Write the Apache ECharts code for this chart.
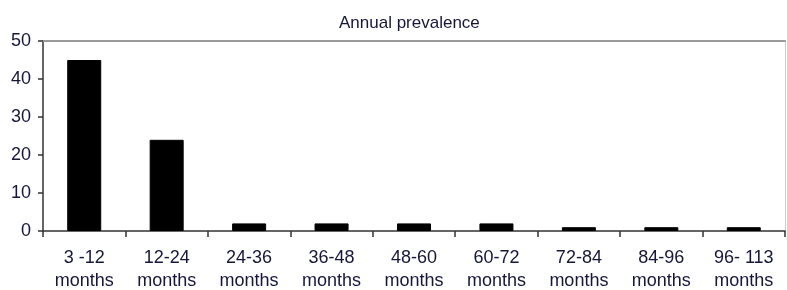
<!DOCTYPE html>
<html>
<head>
<meta charset="utf-8">
<script src="https://cdn.jsdelivr.net/npm/echarts@6/dist/echarts.min.js"></script>
<style>
html,body{margin:0;padding:0;background:#fff;}
#chart{width:787px;height:290px;}
</style>
</head>
<body>
<div id="chart"></div>
<script>
const categories = ["3 -12\nmonths", "12-24\nmonths", "24-36\nmonths", "36-48\nmonths", "48-60\nmonths", "60-72\nmonths", "72-84\nmonths", "84-96\nmonths", "96- 113\nmonths"];
const prevalence = [45, 24, 2, 2, 2, 2, 1, 1, 1];
const titleText = "Annual prevalence";
const yMin = 0, yMax = 50, yStep = 10;

const chart = echarts.init(document.getElementById('chart'));
const font = "'Liberation Sans', Arial, sans-serif";
const textColor = '#16163a';
chart.setOption({
  animation: false,
  backgroundColor: '#fff',
  title: {
    text: titleText,
    left: 334,
    top: 10,
    textStyle: { fontFamily: font, fontSize: 17, fontWeight: 'normal', color: textColor }
  },
  grid: { left: 43, right: 2, top: 41, bottom: 59, containLabel: false, outerBoundsMode: 'none' },
  xAxis: [{
    type: 'category',
    data: categories,
    axisLine: { lineStyle: { color: '#333', width: 1.5 } },
    axisTick: { show: true, alignWithLabel: false, length: 6, lineStyle: { color: '#333', width: 1.5 } },
    axisLabel: { fontFamily: font, fontSize: 18, color: textColor, margin: 16, lineHeight: 23, interval: 0 },
    splitLine: { show: false }
  }, {
    type: 'category',
    position: 'top',
    data: categories,
    axisLine: { show: true, onZero: false, lineStyle: { color: '#999', width: 2 } },
    axisTick: { show: false },
    axisLabel: { show: false },
    splitLine: { show: false }
  }],
  yAxis: [{
    type: 'value',
    min: yMin, max: yMax, interval: yStep,
    axisLine: { show: true, lineStyle: { color: '#333', width: 1.5 } },
    axisTick: { show: true, length: 5, lineStyle: { color: '#333', width: 1.5 } },
    axisLabel: { fontFamily: font, fontSize: 18, color: textColor, margin: 12 },
    splitLine: { show: false }
  }, {
    type: 'value',
    position: 'right',
    min: yMin, max: yMax, interval: yStep,
    axisLine: { show: true, onZero: false, lineStyle: { color: '#d0d0d0', width: 1 } },
    axisTick: { show: false },
    axisLabel: { show: false },
    splitLine: { show: false }
  }],
  series: [{
    type: 'bar',
    data: prevalence,
    barWidth: 34,
    itemStyle: { color: '#000', borderColor: '#000', borderWidth: 1 }
  }]
});
</script>
</body>
</html>
